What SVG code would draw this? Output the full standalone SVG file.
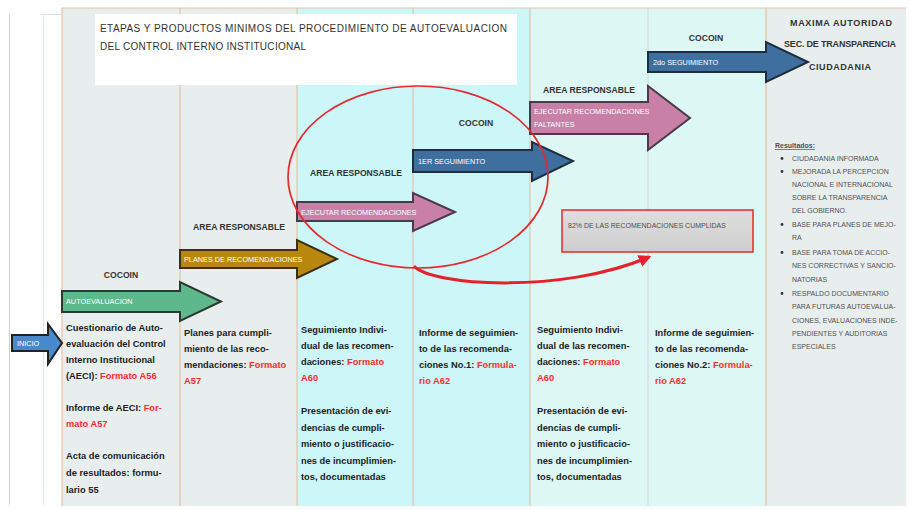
<svg xmlns="http://www.w3.org/2000/svg" width="909" height="509" viewBox="0 0 909 509">
<defs>
<style>
.gray{fill:#e8eeed}
.cyan{fill:#cdf6f8}
.mint{fill:#ddf7f4}
.sep{stroke:#e3c2a9;stroke-width:1.2;fill:none}
.tx{font-family:"Liberation Sans",Arial,sans-serif;font-weight:bold;font-size:9.3px;fill:#222}
.red{fill:#ff2b2b}
.lbl{font-family:"Liberation Sans",Arial,sans-serif;font-size:7.3px;fill:#ffffff}
.hdr{font-family:"Liberation Sans",Arial,sans-serif;font-weight:bold;font-size:8.6px;fill:#333}
.top{font-family:"Liberation Sans",Arial,sans-serif;font-weight:bold;font-size:9px;fill:#333}
.res{font-family:"Liberation Sans",Arial,sans-serif;font-size:7px;fill:#505050}
.arr{stroke-width:2;stroke-linejoin:miter}
</style>
<marker id="redhead" viewBox="0 0 10 10" refX="8" refY="5" markerWidth="4.2" markerHeight="4.2" orient="auto" markerUnits="strokeWidth">
<path d="M0,0 L10,5 L0,10 Z" fill="#e8202a"/>
</marker>
<linearGradient id="boxg" x1="0" y1="0" x2="0" y2="1">
<stop offset="0" stop-color="#dedede"/>
<stop offset="1" stop-color="#cecece"/>
</linearGradient>
</defs>

<rect x="0" y="0" width="909" height="509" fill="#ffffff"/>

<g id="background">
<line x1="9.5" y1="14" x2="9.5" y2="505" stroke="#d0d0d0" stroke-width="1"/>
<line x1="43.5" y1="14" x2="43.5" y2="505" stroke="#d6e6f4" stroke-width="1"/>
<line x1="40" y1="14.5" x2="62" y2="14.5" stroke="#d6e6f4" stroke-width="1"/>
<rect class="gray" x="62" y="8" width="118" height="498"/>
<rect class="gray" x="180" y="8" width="117" height="498"/>
<rect class="cyan" x="297" y="8" width="116" height="498"/>
<rect class="cyan" x="413" y="8" width="117" height="498"/>
<rect class="mint" x="530" y="8" width="118" height="498"/>
<rect class="mint" x="648" y="8" width="118" height="498"/>
<rect class="gray" x="766" y="8" width="140" height="498"/>
<line class="sep" x1="62" y1="8" x2="906" y2="8"/>
<line class="sep" x1="62" y1="8" x2="62" y2="506"/>
<line class="sep" x1="180" y1="8" x2="180" y2="506"/>
<line class="sep" x1="297" y1="8" x2="297" y2="506"/>
<line class="sep" x1="413" y1="8" x2="413" y2="506"/>
<line class="sep" x1="530" y1="8" x2="530" y2="506"/>
<line x1="648" y1="8" x2="648" y2="506" stroke="#cfd8d6" stroke-width="1"/>
<line class="sep" x1="766" y1="8" x2="766" y2="506"/>
</g>

<g id="title">
<rect x="95" y="14" width="422" height="71" fill="#ffffff"/>
<text x="100" y="32" font-family="Liberation Sans, Arial, sans-serif" font-size="10px" fill="#333" textLength="407" lengthAdjust="spacing">ETAPAS Y PRODUCTOS MINIMOS DEL PROCEDIMIENTO DE AUTOEVALUACION</text>
<text x="100" y="50" font-family="Liberation Sans, Arial, sans-serif" font-size="10px" fill="#333" textLength="206" lengthAdjust="spacing">DEL CONTROL INTERNO INSTITUCIONAL</text>
</g>

<g id="inicio">
<path class="arr" d="M12,335 H48 V324 L62,343 L48,364 V351 H12 Z" fill="#4a88cc" stroke="#222"/>
<text class="lbl" x="17" y="346" font-size="6px">INICIO</text>
</g>

<g id="autoevaluacion">
<text class="hdr" x="121" y="278" text-anchor="middle">COCOIN</text>
<path class="arr" d="M62,291 H180 V282 L221,301.5 L180,321 V312 H62 Z" fill="#5db98b" stroke="#2b3a31"/>
<text class="lbl" x="66" y="304">AUTOEVALUACION</text>
</g>

<g id="planes">
<text class="hdr" x="239" y="230" text-anchor="middle">AREA RESPONSABLE</text>
<path class="arr" d="M180,250 H297 V240 L337,259 L297,278 V268 H180 Z" fill="#b8880e" stroke="#3a3010"/>
<text class="lbl" x="184" y="262">PLANES DE RECOMENDACIONES</text>
</g>

<g id="ejecutar1">
<text class="hdr" x="356" y="176" text-anchor="middle">AREA RESPONSABLE</text>
<path class="arr" d="M297,202 H413 V193 L455,212 L413,231 V221 H297 Z" fill="#c880a7" stroke="#4a3a48"/>
<text class="lbl" x="301" y="214.5">EJECUTAR RECOMENDACIONES</text>
</g>

<g id="seguimiento1">
<text class="hdr" x="476" y="126" text-anchor="middle">COCOIN</text>
<path class="arr" d="M413,150 H532 V142 L573,161 L532,181 V172 H413 Z" fill="#3f6f9f" stroke="#1e2e3e"/>
<text class="lbl" x="418" y="164">1ER SEGUIMIENTO</text>
</g>

<g id="ejecutar2">
<text class="hdr" x="589" y="93" text-anchor="middle">AREA RESPONSABLE</text>
<path class="arr" d="M530,102 H648 V86 L690,118 L648,150 V134 H530 Z" fill="#c880a7" stroke="#4a3a48"/>
<text class="lbl" x="534" y="114">EJECUTAR RECOMENDACIONES</text>
<text class="lbl" x="534" y="127">FALTANTES</text>
</g>

<g id="seguimiento2">
<text class="hdr" x="706" y="41" text-anchor="middle">COCOIN</text>
<path class="arr" d="M648,52 H766 V42 L808,62 L766,82 V72 H648 Z" fill="#3f6f9f" stroke="#1e2e3e"/>
<text class="lbl" x="653" y="65">2do SEGUIMIENTO</text>
</g>

<g id="autoridad">
<text class="top" x="841" y="26" text-anchor="middle" textLength="102" lengthAdjust="spacing">MAXIMA AUTORIDAD</text>
<text class="top" x="840" y="47" text-anchor="middle" textLength="112" lengthAdjust="spacing">SEC. DE TRANSPARENCIA</text>
<text class="top" x="840" y="70" text-anchor="middle" textLength="62" lengthAdjust="spacing">CIUDADANIA</text>
</g>

<g id="resultados">
<text class="res" x="775" y="148" font-weight="bold" fill="#444" text-decoration="underline">Resultados:</text>
<g fill="#333">
<circle cx="782" cy="158.5" r="1.4"/>
<circle cx="782" cy="171.5" r="1.4"/>
<circle cx="782" cy="224.5" r="1.4"/>
<circle cx="782" cy="252.5" r="1.4"/>
<circle cx="782" cy="293.5" r="1.4"/>
</g>
<text class="res" x="792" y="161">CIUDADANIA INFORMADA</text>
<text class="res" x="792" y="174">MEJORADA LA PERCEPCION</text>
<text class="res" x="792" y="187">NACIONAL E INTERNACIONAL</text>
<text class="res" x="792" y="200">SOBRE LA TRANSPARENCIA</text>
<text class="res" x="792" y="213">DEL GOBIERNO.</text>
<text class="res" x="792" y="227">BASE PARA PLANES DE MEJO-</text>
<text class="res" x="792" y="240">RA</text>
<text class="res" x="792" y="255">BASE PARA TOMA DE ACCIO-</text>
<text class="res" x="792" y="268">NES CORRECTIVAS Y SANCIO-</text>
<text class="res" x="792" y="282">NATORIAS</text>
<text class="res" x="792" y="296">RESPALDO DOCUMENTARIO</text>
<text class="res" x="792" y="309">PARA FUTURAS AUTOEVALUA-</text>
<text class="res" x="792" y="323">CIONES, EVALUACIONES INDE-</text>
<text class="res" x="792" y="336">PENDIENTES Y AUDITORIAS</text>
<text class="res" x="792" y="349">ESPECIALES</text>
</g>

<g id="cumplidas">
<rect x="562" y="210" width="191" height="42" fill="url(#boxg)" stroke="#e53535" stroke-width="1.6"/>
<text class="res" x="568" y="228" fill="#333">82% DE LAS RECOMENDACIONES CUMPLIDAS</text>
</g>

<g id="col1-text" class="tx">
<text x="66" y="331">Cuestionario de Auto-</text>
<text x="66" y="347">evaluación del Control</text>
<text x="66" y="363">Interno Institucional</text>
<text x="66" y="379">(AECI): <tspan class="red">Formato A56</tspan></text>
<text x="66" y="411">Informe de AECI: <tspan class="red">For-</tspan></text>
<text x="66" y="427" class="red">mato A57</text>
<text x="66" y="459">Acta de comunicación</text>
<text x="66" y="476">de resultados: formu-</text>
<text x="66" y="493">lario 55</text>
</g>

<g id="col2-text" class="tx">
<text x="184" y="336">Planes para cumpli-</text>
<text x="184" y="352">miento de las reco-</text>
<text x="184" y="368">mendaciones: <tspan class="red">Formato</tspan></text>
<text x="184" y="384" class="red">A57</text>
</g>

<g id="col3-text" class="tx">
<text x="301" y="333">Seguimiento Indivi-</text>
<text x="301" y="349">dual de las recomen-</text>
<text x="301" y="365">daciones: <tspan class="red">Formato</tspan></text>
<text x="301" y="381" class="red">A60</text>
<text x="301" y="414">Presentación de evi-</text>
<text x="301" y="431">dencias de cumpli-</text>
<text x="301" y="447">miento o justificacio-</text>
<text x="301" y="464">nes de incumplimien-</text>
<text x="301" y="480">tos, documentadas</text>
</g>

<g id="col4-text" class="tx">
<text x="419" y="336">Informe de seguimien-</text>
<text x="419" y="352">to de las recomenda-</text>
<text x="419" y="368">ciones No.1: <tspan class="red">Formula-</tspan></text>
<text x="419" y="384" class="red">rio A62</text>
</g>

<g id="col5-text" class="tx">
<text x="537" y="333">Seguimiento Indivi-</text>
<text x="537" y="349">dual de las recomen-</text>
<text x="537" y="365">daciones: <tspan class="red">Formato</tspan></text>
<text x="537" y="381" class="red">A60</text>
<text x="537" y="414">Presentación de evi-</text>
<text x="537" y="431">dencias de cumpli-</text>
<text x="537" y="447">miento o justificacio-</text>
<text x="537" y="464">nes de incumplimien-</text>
<text x="537" y="480">tos, documentadas</text>
</g>

<g id="col6-text" class="tx">
<text x="655" y="336">Informe de seguimien-</text>
<text x="655" y="352">to de las recomenda-</text>
<text x="655" y="368">ciones No.2: <tspan class="red">Formula-</tspan></text>
<text x="655" y="384" class="red">rio A62</text>
</g>

<g id="highlight">
<ellipse cx="418" cy="177" rx="130" ry="91" fill="none" stroke="#e52a30" stroke-width="1.7"/>
</g>

<g id="connectors">
<path d="M414,266 C430,285 560,295 649,257" fill="none" stroke="#e8202a" stroke-width="3" marker-end="url(#redhead)"/>
</g>
</svg>
